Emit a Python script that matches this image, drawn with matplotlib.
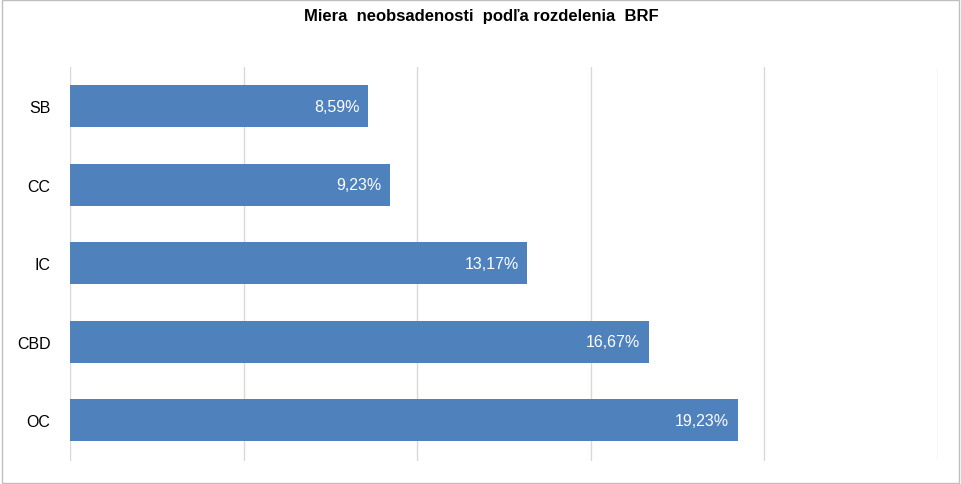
import matplotlib
matplotlib.use("Agg")
import matplotlib.pyplot as plt
from matplotlib.patches import Rectangle

categories = ["SB", "CC", "IC", "CBD", "OC"]
values = [8.59, 9.23, 13.17, 16.67, 19.23]
labels = ["8,59%", "9,23%", "13,17%", "16,67%", "19,23%"]

plt.rcParams["font.family"] = "Liberation Sans"
fig = plt.figure(figsize=(9.62, 4.85), dpi=100)
ax = fig.add_axes([70/962, 1-462/485, 868/962, 394/485])
y = list(range(len(categories)))
ax.barh(y, values, height=0.54, color="#4F81BD", zorder=3)
for yi, v, l in zip(y, values, labels):
    ax.text(v - 0.25, yi, l, ha="right", va="center", color="white", fontsize=11.5, zorder=4)
ax.set_xlim(0, 25)
ax.set_ylim(4.52, -0.5)
ax.set_yticks(y)
ax.set_yticklabels(categories, fontsize=11.5)
ax.set_xticks([0, 5, 10, 15, 20, 25])
ax.set_xticklabels([])
ax.tick_params(length=0, pad=14)
ax.grid(axis="x", color="#D9D9D9", linewidth=1, zorder=0)
for s in ax.spines.values():
    s.set_visible(False)
fig.text(0.5, 1-17/485, "Miera  neobsadenosti  podľa rozdelenia  BRF", ha="center", va="center",
         fontsize=12, fontweight="bold")
fig.patches.append(Rectangle((0.002, 0.003), 0.995, 0.994, transform=fig.transFigure,
                             fill=False, edgecolor="#BFBFBF", linewidth=1))
fig.savefig("out.png", dpi=100)
